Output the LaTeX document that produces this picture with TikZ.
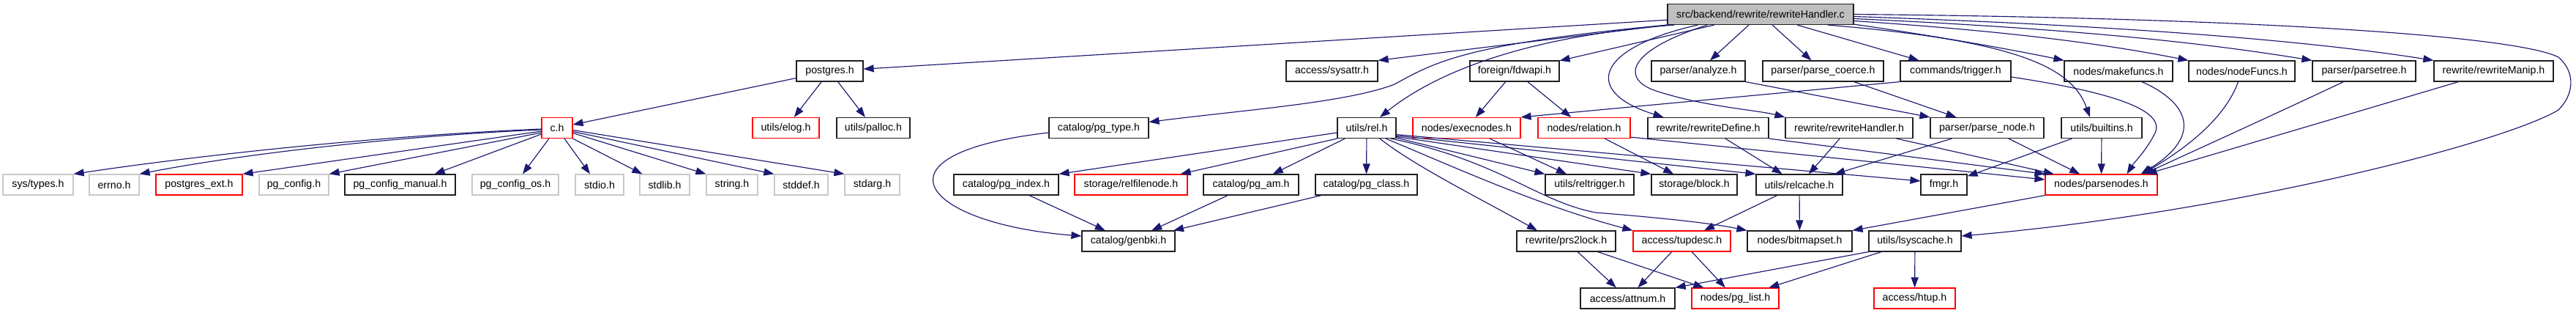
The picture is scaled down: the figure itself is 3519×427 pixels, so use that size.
\documentclass[tikz,border=0pt]{standalone}
\usepackage{fontspec}
\setmainfont{Liberation Sans}
\usetikzlibrary{arrows.meta}
\definecolor{edgeblue}{HTML}{191970}
\definecolor{topgray}{HTML}{BFBFBF}
\definecolor{lgray}{HTML}{C8C8C8}
\definecolor{nred}{HTML}{FF0000}
\definecolor{nblack}{HTML}{202020}
\tikzset{
  nb/.style={draw=nblack, line width=1.15pt, minimum height=28pt, inner sep=0pt, fill=white,
             font=\fontsize{14.2}{17}\selectfont},
  nr/.style={nb, draw=nred},
  ng/.style={nb, draw=lgray},
  ntop/.style={nb, fill=topgray},
  wd/.style={minimum width=#1pt},
  e/.style={draw=edgeblue, line width=1.15pt, -{Triangle[length=14pt,width=10pt]}},
}
\begin{document}
\begin{tikzpicture}[x=1pt,y=-1pt]
\fill[white] (0,0) rectangle (3519,427);
\useasboundingbox (0,0) rectangle (3519,427);
% row 0
\node[ntop,wd=254] (T) at (2405,19.5) {src/backend/rewrite/rewriteHandler.c};
% row 1
\node[nb,wd=91]  (postgres) at (1133.5,97) {postgres.h};
\node[nb,wd=125] (sysattr) at (1819.5,97) {access/sysattr.h};
\node[nb,wd=122] (fdwapi) at (2069,97) {foreign/fdwapi.h};
\node[nb,wd=128] (analyze) at (2320,97) {parser/analyze.h};
\node[nb,wd=165] (parsecoerce) at (2490.5,97) {parser/parse\_coerce.h};
\node[nb,wd=151] (trigger) at (2671.5,97) {commands/trigger.h};
\node[nb,wd=148] (makefuncs) at (2894,97) {nodes/makefuncs.h};
\node[nb,wd=145] (nodefuncs) at (3062.5,97) {nodes/nodeFuncs.h};
\node[nb,wd=141] (parsetree) at (3229.5,97) {parser/parsetree.h};
\node[nb,wd=163] (rewritemanip) at (3406.5,97) {rewrite/rewriteManip.h};
% row 2
\node[nr,wd=42]  (ch) at (761,174.5) {c.h};
\node[nr,wd=91]  (elog) at (1073.5,174.5) {utils/elog.h};
\node[nb,wd=100] (palloc) at (1193,174.5) {utils/palloc.h};
\node[nb,wd=136] (pgtype) at (1501,174.5) {catalog/pg\_type.h};
\node[nb,wd=80]  (rel) at (1867,174.5) {utils/rel.h};
\node[nr,wd=147] (execnodes) at (2003.5,174.5) {nodes/execnodes.h};
\node[nr,wd=126] (relation) at (2164,174.5) {nodes/relation.h};
\node[nb,wd=165] (rwdefine) at (2333.5,174.5) {rewrite/rewriteDefine.h};
\node[nb,wd=174] (rwhandler) at (2526,174.5) {rewrite/rewriteHandler.h};
\node[nb,wd=155] (parsenode) at (2714.5,174.5) {parser/parse\_node.h};
\node[nb,wd=110] (builtins) at (2871,174.5) {utils/builtins.h};
% row 3
\node[ng,wd=96]  (systypes) at (52,252) {sys/types.h};
\node[ng,wd=68]  (errno) at (156,252) {errno.h};
\node[nr,wd=118] (pgext) at (272,252) {postgres\_ext.h};
\node[ng,wd=95]  (pgconfig) at (401.5,252) {pg\_config.h};
\node[nb,wd=151] (pgmanual) at (546.5,252) {pg\_config\_manual.h};
\node[ng,wd=118] (pgos) at (704,252) {pg\_config\_os.h};
\node[ng,wd=66]  (stdio) at (819,252) {stdio.h};
\node[ng,wd=68]  (stdlib) at (908,252) {stdlib.h};
\node[ng,wd=70]  (string) at (1000,252) {string.h};
\node[ng,wd=73]  (stddef) at (1094.5,252) {stddef.h};
\node[ng,wd=75]  (stdarg) at (1191.5,252) {stdarg.h};
\node[nb,wd=143] (pgindex) at (1374.5,252) {catalog/pg\_index.h};
\node[nr,wd=154] (relfile) at (1545,252) {storage/relfilenode.h};
\node[nb,wd=130] (pgam) at (1709,252) {catalog/pg\_am.h};
\node[nb,wd=139] (pgclass) at (1866.5,252) {catalog/pg\_class.h};
\node[nb,wd=121] (reltrigger) at (2171.5,252) {utils/reltrigger.h};
\node[nb,wd=117] (block) at (2314.5,252) {storage/block.h};
\node[nb,wd=118] (relcache) at (2458,252) {utils/relcache.h};
\node[nb,wd=63]  (fmgr) at (2655.5,252) {fmgr.h};
\node[nr,wd=153] (parsenodes) at (2870.5,252) {nodes/parsenodes.h};
% row 4
\node[nb,wd=127] (genbki) at (1541.5,329) {catalog/genbki.h};
\node[nb,wd=135] (prs2lock) at (2139.5,329) {rewrite/prs2lock.h};
\node[nr,wd=133] (tupdesc) at (2297.5,329) {access/tupdesc.h};
\node[nb,wd=143] (bitmapset) at (2458.5,329) {nodes/bitmapset.h};
\node[nb,wd=126] (lsyscache) at (2616,329) {utils/lsyscache.h};
% row 5
\node[nb,wd=129] (attnum) at (2223.5,407) {access/attnum.h};
\node[nr,wd=119] (pglist) at (2370.5,407) {nodes/pg\_list.h};
\node[nr,wd=111] (htup) at (2615.5,407) {access/htup.h};

% ---- edges from top node
\draw[e] (T) -- (postgres);
\draw[e] (T.south west) -- (sysattr.north east);
\draw[e] (T.south west) .. controls (2000,60) and (1960,85) .. (1905,115)
         .. controls (1840,140) and (1700,150) .. ([yshift=8pt]pgtype.east);
\draw[e] ([xshift=10pt]T.south west) .. controls (2080,50) and (1960,100) .. ([xshift=18pt]rel.north);
\draw[e] (T) -- (fdwapi);
\draw[e] (T) -- (analyze);
\draw[e] (T) -- (parsecoerce);
\draw[e] (T) -- (trigger);
\draw[e] ([yshift=1pt]T.south east) .. controls (2650,50) and (2750,68) .. (makefuncs.north west);
\draw[e] ([yshift=-9pt]T.east) .. controls (2780,45) and (2900,65) .. (nodefuncs.north west);
\draw[e] ([yshift=-6pt]T.east) .. controls (2850,40) and (3020,60) .. (parsetree.north west);
\draw[e] ([yshift=-3pt]T.east) .. controls (2900,35) and (3150,55) .. (rewritemanip.north west);
\draw[e] (T.east) .. controls (3100,25) and (3440,50) .. (3495,78)
         .. controls (3520,100) and (3515,130) .. (3495,150)
         .. controls (3420,195) and (3050,290) .. ([yshift=7pt]lsyscache.east);
\draw[e] ([xshift=42pt]T.south west) .. controls (2180,65) and (2160,125) .. ([xshift=-61pt]rwdefine.north);
\draw[e] ([xshift=55pt]T.south west) .. controls (2220,70) and (2215,108) .. (2262,124)
         .. controls (2330,146) and (2400,150) .. (rwhandler.north west);
\draw[e] ([xshift=-36pt]T.south east) .. controls (2750,55) and (2830,90) .. ([xshift=-16pt]builtins.north);

% ---- postgres.h and c.h
\draw[e] (postgres) -- (ch);
\draw[e] (postgres) -- (elog);
\draw[e] (postgres) -- (palloc);
\draw[e] ([yshift=-1.5pt]ch.west) .. controls (500,186) and (250,215) .. (systypes.north east);
\draw[e] ([yshift=-2.5pt]ch.west) .. controls (550,185) and (330,210) .. (errno.north east);
\draw[e] ([yshift=-4.5pt]ch.west) -- (pgext.north east);
\draw[e] ([yshift=-6.5pt]ch.west) -- (pgconfig.north east);
\draw[e] ([yshift=-8.5pt]ch.west) -- ([xshift=-29pt]pgmanual.north east);
\draw[e] ([xshift=-11pt]ch.south) -- ([xshift=10pt]pgos.north);
\draw[e] ([xshift=10pt]ch.south) -- ([xshift=-13pt]stdio.north);
\draw[e] (ch.south east) -- ([xshift=4pt]stdlib.north west);
\draw[e] ([yshift=-7pt]ch.east) -- (string.north west);
\draw[e] ([yshift=-5pt]ch.east) -- (stddef.north west);
\draw[e] ([yshift=-3pt]ch.east) -- (stdarg.north west);

% ---- catalog
\draw[e] ([yshift=-6.5pt]pgtype.west) .. controls (1180,210) and (1260,305) .. ([yshift=7pt]genbki.west);
\draw[e] (pgindex) -- (genbki);
\draw[e] (pgam) -- (genbki);
\draw[e] (pgclass) -- (genbki);

% ---- utils/rel.h
\draw[e] ([yshift=-6.5pt]rel.west) -- (pgindex.north east);
\draw[e] (rel.south west) -- ([xshift=-10pt]relfile.north east);
\draw[e] (rel) -- (pgam);
\draw[e] (rel) -- (pgclass);
\draw[e] ([xshift=18pt]rel.south) .. controls (1930,225) and (2020,270) .. ([xshift=-39.5pt]prs2lock.north);
\draw[e] ([xshift=26pt]rel.south) .. controls (1980,225) and (2100,280) .. (tupdesc.north west);
\draw[e] ([xshift=33pt]rel.south) .. controls (2050,220) and (2100,275) .. (2180,290)
         .. controls (2280,298) and (2340,305) .. (bitmapset.north west);
\draw[e] ([yshift=1pt]rel.south east) -- (reltrigger.north west);
\draw[e] ([yshift=2.5pt]rel.south east) -- (block.north west);
\draw[e] ([yshift=4pt]rel.south east) -- (relcache.north west);
\draw[e] ([yshift=5.5pt]rel.south east) -- ([yshift=5pt]fmgr.west);

% ---- others
\draw[e] (execnodes) -- (reltrigger);
\draw[e] (relation) -- (block);
\draw[e] ([yshift=2pt]relation.south east) -- ([yshift=7pt]parsenodes.west);
\draw[e] (fdwapi) -- (execnodes);
\draw[e] (fdwapi) -- (relation);
\draw[e] (trigger.south west) -- (execnodes.north east);
\draw[e] ([yshift=-8pt]trigger.east) .. controls (2880,125) and (2965,150) .. (2942,185)
         .. controls (2932,205) and (2915,222) .. ([xshift=35pt]parsenodes.north);
\draw[e] (analyze.south east) -- (parsenode.north west);
\draw[e] (parsecoerce) -- (parsenode);
\draw[e] ([xshift=32pt]makefuncs.south) .. controls (2990,140) and (3010,185) .. ([xshift=54pt]parsenodes.north);
\draw[e] ([xshift=-5pt]nodefuncs.south) .. controls (3040,160) and (2990,200) .. ([xshift=56pt]parsenodes.north);
\draw[e] ([xshift=-28pt]parsetree.south) .. controls (3120,150) and (3010,200) .. ([xshift=58pt]parsenodes.north);
\draw[e] ([xshift=-48pt]rewritemanip.south) -- ([xshift=62pt]parsenodes.north);
\draw[e] (rwdefine) -- (relcache);
\draw[e] (rwdefine.south east) -- (parsenodes.north west);
\draw[e] (rwhandler) -- (relcache);
\draw[e] (rwhandler) -- (parsenodes);
\draw[e] (parsenode) -- (relcache);
\draw[e] (parsenode) -- (parsenodes);
\draw[e] (builtins) -- (fmgr);
\draw[e] (builtins) -- (parsenodes);
\draw[e] (parsenodes.south west) -- (bitmapset.north east);
\draw[e] (relcache) -- (tupdesc);
\draw[e] (relcache) -- (bitmapset);
\draw[e] (tupdesc) -- (attnum);
\draw[e] (tupdesc) -- (pglist);
\draw[e] (prs2lock) -- (attnum);
\draw[e] (prs2lock) -- (pglist);
\draw[e] (lsyscache.south west) -- (attnum.north east);
\draw[e] (lsyscache) -- (pglist);
\draw[e] (lsyscache) -- (htup);
\end{tikzpicture}
\end{document}
